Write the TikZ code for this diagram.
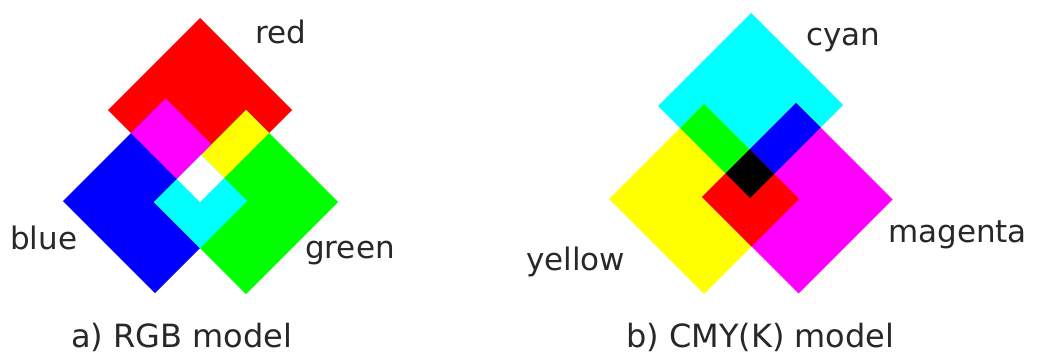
\documentclass[tikz,border=0pt]{standalone}
\usepackage{fontspec}
\setmainfont{DejaVu Sans}
\definecolor{pR}{RGB}{255,0,0}
\definecolor{pG}{RGB}{0,255,0}
\definecolor{pB}{RGB}{0,0,255}
\definecolor{pC}{RGB}{0,255,255}
\definecolor{pM}{RGB}{255,0,255}
\definecolor{pY}{RGB}{255,255,0}
\definecolor{txt}{RGB}{40,40,40}
% filled box in rotated (u,v) coordinates: colour, u1, v1, u2, v2
\newcommand\uvbox[5]{\fill[#1] (#2,#3) -- (#4,#3) -- (#4,#5) -- (#2,#5) -- cycle;}
\begin{document}
\begin{tikzpicture}[x=1pt,y=-1pt,
  lbl/.style={anchor=base west, inner sep=0pt, text=txt, font=\fontsize{31}{37}\selectfont},
  capt/.style={anchor=base west, inner sep=0pt, text=txt, font=\fontsize{32}{38}\selectfont}]
\fill[white] (0,0) rectangle (1040,356);
\useasboundingbox (0,0) rectangle (1040,356);
% diamonds drawn in rotated (u,v) coordinates: u = x - y, v = x + y (pixels)
\begin{scope}[x={(0.5pt,0.5pt)}, y={(0.5pt,-0.5pt)}]
  % RGB model
  \uvbox{pR}{-2}{218}{182}{402}
  \uvbox{pB}{-138}{264}{46}{448}
  \uvbox{pG}{-48}{356}{136}{540}
  \uvbox{pM}{-2}{264}{67}{356}
  \uvbox{pY}{46}{356}{136}{402}
  \uvbox{pC}{-48}{356}{46}{448}
  \uvbox{white}{-2}{356}{46}{402}
  % CMY model
  \uvbox{pC}{552}{764}{738}{948}
  \uvbox{pY}{410}{808}{600}{998}
  \uvbox{pM}{505}{899}{693}{1092}
  \uvbox{pG}{552}{808}{600}{899}
  \uvbox{pB}{600}{899}{693}{948}
  \uvbox{pR}{505}{899}{600}{998}
  \uvbox{black}{552}{899}{600}{948}
\end{scope}
\node[lbl] (lred) at (255,43) {red};
\node[lbl] (lblue) at (10,249) {blue};
\node[lbl] (lgreen) at (305,258) {green};
\node[lbl] (lcyan) at (806,45) {cyan};
\node[lbl] (lmag) at (888,242) {magenta};
\node[lbl] (lyel) at (526,270) {yellow};
\node[capt] (ca) at (71,347) {a) RGB model};
\node[capt] (cb) at (626,347) {b) CMY(K) model};
\end{tikzpicture}
\end{document}
